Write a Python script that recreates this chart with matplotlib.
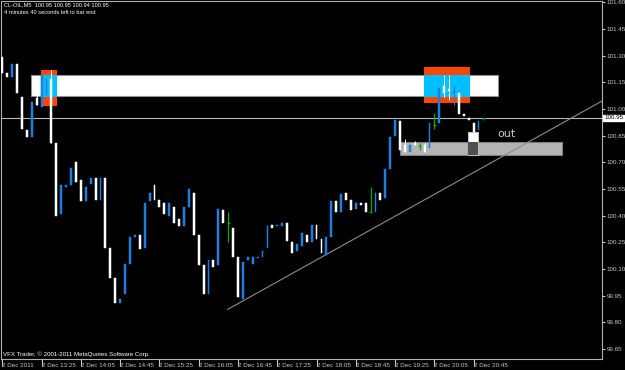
import matplotlib
matplotlib.use("Agg")
import matplotlib.pyplot as plt
from matplotlib.patches import Rectangle
from matplotlib.transforms import blended_transform_factory

plt.rcParams['font.family'] = ['Liberation Sans', 'DejaVu Sans']

# CL-OIL M5 candles, 2 Dec 2011 12:45 .. 20:55 (bar index 0..98)
opens = [101.29, 101.20, 101.18, 101.25, 101.07, 100.88, 100.84, 101.06, 101.01, 101.08,
         101.17, 100.81, 100.41, 100.56, 100.57, 100.70, 100.60, 100.48, 100.58, 100.61,
         100.49, 100.61, 100.22, 100.05, 99.91, 99.96, 100.13, 100.28, 100.29, 100.22,
         100.48, 100.57, 100.49, 100.47, 100.40, 100.45, 100.38, 100.34, 100.45, 100.53,
         100.29, 100.12, 99.96, 100.15, 100.12, 100.43, 100.36, 100.33, 100.17, 99.93,
         100.15, 100.13, 100.16, 100.17, 100.22, 100.35, 100.34, 100.34, 100.36, 100.25,
         100.20, 100.23, 100.29, 100.25, 100.35, 100.27, 100.18, 100.28, 100.48, 100.42,
         100.53, 100.49, 100.44, 100.47, 100.47, 100.42, 100.42, 100.53, 100.50, 100.66,
         100.85, 100.93, 100.80, 100.76, 100.81, 100.79, 100.80, 100.78, 100.91, 100.92,
         101.13, 101.11, 101.09, 101.09, 100.97, 100.95, 100.92, 100.88, 100.95]
highs = [101.29, 101.20, 101.25, 101.25, 101.07, 100.88, 101.04, 101.12, 101.19, 101.17,
         101.22, 100.81, 100.57, 100.57, 100.67, 100.70, 100.60, 100.56, 100.61, 100.61,
         100.61, 100.61, 100.22, 100.05, 99.93, 100.13, 100.28, 100.29, 100.29, 100.47,
         100.53, 100.57, 100.49, 100.47, 100.47, 100.45, 100.38, 100.45, 100.55, 100.53,
         100.29, 100.12, 100.15, 100.15, 100.44, 100.43, 100.42, 100.33, 100.17, 100.14,
         100.17, 100.17, 100.17, 100.20, 100.34, 100.35, 100.35, 100.36, 100.36, 100.25,
         100.24, 100.30, 100.29, 100.35, 100.35, 100.27, 100.28, 100.48, 100.48, 100.52,
         100.53, 100.49, 100.47, 100.47, 100.47, 100.56, 100.53, 100.53, 100.66, 100.84,
         100.94, 100.93, 100.83, 100.80, 100.82, 100.81, 100.81, 100.92, 100.98, 101.12,
         101.19, 101.19, 101.13, 101.09, 100.97, 100.95, 100.92, 100.93, 100.95]
lows = [101.20, 101.18, 101.18, 101.09, 100.89, 100.84, 100.84, 101.02, 101.01, 101.08,
        100.81, 100.40, 100.41, 100.56, 100.57, 100.59, 100.48, 100.48, 100.58, 100.49,
        100.49, 100.22, 100.05, 99.91, 99.91, 99.96, 100.13, 100.28, 100.21, 100.22,
        100.48, 100.49, 100.45, 100.41, 100.40, 100.36, 100.34, 100.34, 100.45, 100.29,
        100.12, 99.96, 99.96, 100.11, 100.12, 100.36, 100.25, 100.17, 99.94, 99.93,
        100.15, 100.13, 100.16, 100.17, 100.22, 100.33, 100.34, 100.34, 100.26, 100.19,
        100.20, 100.23, 100.25, 100.25, 100.27, 100.19, 100.18, 100.28, 100.42, 100.42,
        100.49, 100.43, 100.44, 100.46, 100.42, 100.42, 100.42, 100.49, 100.50, 100.66,
        100.85, 100.77, 100.76, 100.76, 100.80, 100.77, 100.76, 100.78, 100.89, 100.92,
        101.07, 101.05, 101.02, 100.97, 100.96, 100.94, 100.87, 100.88, 100.94]
closes = [101.20, 101.18, 101.25, 101.09, 100.89, 100.84, 101.04, 101.02, 101.19, 101.17,
          100.81, 100.40, 100.57, 100.57, 100.67, 100.59, 100.48, 100.56, 100.61, 100.49,
          100.61, 100.22, 100.05, 99.91, 99.93, 100.13, 100.28, 100.29, 100.21, 100.47,
          100.53, 100.49, 100.45, 100.41, 100.47, 100.36, 100.34, 100.45, 100.55, 100.29,
          100.12, 99.96, 100.15, 100.11, 100.44, 100.36, 100.36, 100.17, 99.94, 100.14,
          100.17, 100.17, 100.17, 100.20, 100.34, 100.33, 100.35, 100.36, 100.26, 100.19,
          100.24, 100.30, 100.25, 100.35, 100.27, 100.19, 100.28, 100.48, 100.42, 100.52,
          100.49, 100.43, 100.47, 100.46, 100.42, 100.42, 100.53, 100.49, 100.66, 100.84,
          100.94, 100.77, 100.76, 100.80, 100.80, 100.79, 100.76, 100.92, 100.91, 101.12,
          101.09, 101.10, 101.10, 100.97, 100.96, 100.94, 100.87, 100.93, 100.95]

bid = 100.95
xtick_pos = [0, 8, 16, 24, 32, 40, 48, 56, 64, 72, 80, 88, 96]
xtick_labels = ['2 Dec 2011', '2 Dec 13:25', '2 Dec 14:05', '2 Dec 14:45', '2 Dec 15:25',
                '2 Dec 16:05', '2 Dec 16:45', '2 Dec 17:25', '2 Dec 18:05', '2 Dec 18:45',
                '2 Dec 19:25', '2 Dec 20:05', '2 Dec 20:45']
ytick_vals = [101.60, 101.45, 101.30, 101.15, 101.00, 100.85, 100.70,
              100.55, 100.40, 100.25, 100.10, 99.95, 99.80, 99.65]

# chart objects: (x0, x1, y0, y1) in bar index / price
zone_top = (5.85, 100.96, 101.073, 101.191)
orange_boxes = [(7.88, 10.94, 101.022, 101.219), (85.9, 95.0, 101.041, 101.238)]
cyan_boxes = [(7.88, 10.94, 101.073, 101.191), (85.9, 95.0, 101.073, 101.191)]
zone_low = (81.0, 114.0, 100.741, 100.814)
out_box = (94.8, 96.9, 100.741, 100.872)
out_inner = (94.95, 96.75, 100.745, 100.816)
trend_x = [45.9, 122.1]
trend_y = [99.873, 101.044]

fig = plt.figure(figsize=(6.25, 3.7), dpi=100, facecolor='black')
ax = fig.add_axes([1/625, 11/370, 601/625, 358/370])
ax.set_facecolor('black')


def box(b, fc, ec=None, z=1):
    ax.add_patch(Rectangle((b[0], b[2]), b[1]-b[0], b[3]-b[2], facecolor=fc,
                           edgecolor=ec if ec else fc, linewidth=0.8, zorder=z))


box(zone_top, 'white', '#909090')
for b in orange_boxes:
    box(b, '#ff4500', z=1.1)
for b in cyan_boxes:
    box(b, '#00bfff', z=1.2)
box(zone_low, '#b4b4b4', '#808080')
box(out_box, 'white', '#c0c0c0', z=1.3)
box(out_inner, '#505050', z=1.4)

ax.axhline(bid, color='#b8b8b8', lw=0.8, zorder=2)
ax.plot(trend_x, trend_y, color='#8c8c8c', lw=0.8, zorder=2)

for i in range(len(opens)):
    o, h, l, c = opens[i], highs[i], lows[i], closes[i]
    if o == c:
        ax.vlines(i, l, h, color='#00b000', lw=0.9, zorder=3)
        ax.hlines(o, i-0.3, i+0.3, color='#00b000', lw=0.9, zorder=3)
        continue
    col = '#1e7fe0' if c > o else 'white'
    if h > max(o, c) or l < min(o, c):
        ax.vlines(i, l, h, color=col, lw=0.7, zorder=3)
    ax.bar(i, c-o, bottom=o, width=0.38, color=col, edgecolor=col, lw=0.35, zorder=4)

ax.text(100.75, 100.843, 'out', color='#c8c8c8', fontsize=8,
        family=['DejaVu Sans'], zorder=5)

ax.set_xlim(-0.265, 122.14)
ax.set_ylim(99.594, 101.607)
ax.set_xticks(xtick_pos)
ax.set_xticklabels(xtick_labels)
for t in ax.get_xticklabels():
    t.set_ha('left')
ax.yaxis.tick_right()
ax.set_yticks(ytick_vals)
ax.set_yticklabels(['%.2f' % v for v in ytick_vals])
ax.tick_params(colors='#c8c8c8', labelsize=4.5, width=0.8)
ax.tick_params(axis='x', length=5, pad=-2.2)
ax.tick_params(axis='y', length=2.5, pad=0.8)
for s in ax.spines.values():
    s.set_color('#b0b0b0')
    s.set_linewidth(0.8)

tr = blended_transform_factory(ax.transAxes, ax.transData)
ax.text(1.0035, bid, '100.95', transform=tr, fontsize=4.5, color='black', va='center',
        ha='left', bbox=dict(facecolor='white', edgecolor='white', pad=0.6), clip_on=False)

fig.text(4/625, 1-5/370, 'CL-OIL,M5  100.95 100.95 100.94 100.95', color='white',
         fontsize=4.1, va='center')
fig.text(4/625, 1-12/370, '4 minutes 40 seconds left to bar end', color='white',
         fontsize=4.1, va='center')
fig.text(3/625, 1-354/370, 'VFX Trader, \u00a9 2001-2011 MetaQuotes Software Corp.',
         color='white', fontsize=4.4, va='center')

fig.savefig('out.png', dpi=100, facecolor='black')
